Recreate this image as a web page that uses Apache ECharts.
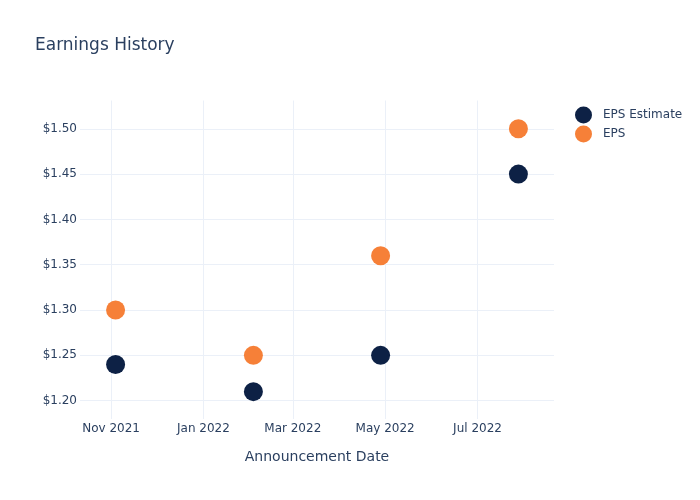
<!DOCTYPE html>
<html>
<head>
<meta charset="utf-8">
<script src="https://cdn.jsdelivr.net/npm/echarts@6/dist/echarts.min.js"></script>
<style>html,body{margin:0;padding:0;background:#fff}#c{width:700px;height:500px}</style>
</head>
<body>
<div id="c"></div>
<script>
const dates = ['2021-11-04', '2022-02-03', '2022-04-28', '2022-07-28'];
const epsEstimate = [1.24, 1.21, 1.25, 1.45];
const eps = [1.30, 1.25, 1.36, 1.50];
const yTicks = [1.20, 1.25, 1.30, 1.35, 1.40, 1.45, 1.50];
const xTicks = ['2021-11-01', '2022-01-01', '2022-03-01', '2022-05-01', '2022-07-01'];
const months = ['Jan','Feb','Mar','Apr','May','Jun','Jul','Aug','Sep','Oct','Nov','Dec'];

function toTs(s, h) {
  const p = s.split('-').map(Number);
  return new Date(p[0], p[1] - 1, p[2], h || 0).getTime();
}
const FONT = 'DejaVu Sans';
const TXT = '#2a3f5f';
const GRID = '#ebf0f8';

const chart = echarts.init(document.getElementById('c'), null, {renderer: 'canvas'});
chart.setOption({
  backgroundColor: '#fff',
  animation: false,
  title: {
    text: 'Earnings History', left: 35, top: 37, padding: 0,
    textStyle: {fontFamily: FONT, fontSize: 17, fontWeight: 'normal', color: TXT}
  },
  legend: {
    orient: 'vertical', left: 575, top: 106.5, itemWidth: 17, itemHeight: 17,
    itemGap: 2, icon: 'circle', padding: 0,
    textStyle: {fontFamily: FONT, fontSize: 12, color: TXT, padding: [0, 0, 0, 6]},
    data: ['EPS Estimate', 'EPS']
  },
  grid: {left: 80, right: 146, top: 100.5, bottom: 81, containLabel: false},
  xAxis: {
    type: 'value', scale: true,
    min: toTs('2021-10-11', 12), max: toTs('2022-08-20', 12),
    name: 'Announcement Date', nameLocation: 'middle', nameGap: 31,
    nameTextStyle: {fontFamily: FONT, fontSize: 14, color: TXT},
    axisLine: {show: false}, axisTick: {show: false, customValues: xTicks.map(s => toTs(s))},
    axisLabel: {
      customValues: xTicks.map(s => toTs(s)), margin: 4,
      fontFamily: FONT, fontSize: 12, color: TXT,
      formatter: v => { const d = new Date(v); return months[d.getMonth()] + ' ' + d.getFullYear(); }
    },
    splitLine: {show: true, lineStyle: {color: GRID, width: 1}}
  },
  yAxis: {
    type: 'value', scale: true, min: 1.1798, max: 1.5312,
    axisLine: {show: false}, axisTick: {show: false, customValues: yTicks},
    axisLabel: {
      customValues: yTicks, margin: 3, fontFamily: FONT, fontSize: 12, color: TXT,
      formatter: v => '$' + v.toFixed(2)
    },
    splitLine: {show: true, lineStyle: {color: GRID, width: 1}}
  },
  series: [
    {name: 'EPS Estimate', type: 'scatter', symbolSize: 19, itemStyle: {color: '#0d2145', opacity: 1},
     data: dates.map((d, i) => [toTs(d), epsEstimate[i]])},
    {name: 'EPS', type: 'scatter', symbolSize: 19, itemStyle: {color: '#f68038', opacity: 1},
     data: dates.map((d, i) => [toTs(d), eps[i]])}
  ]
});
</script>
</body>
</html>
